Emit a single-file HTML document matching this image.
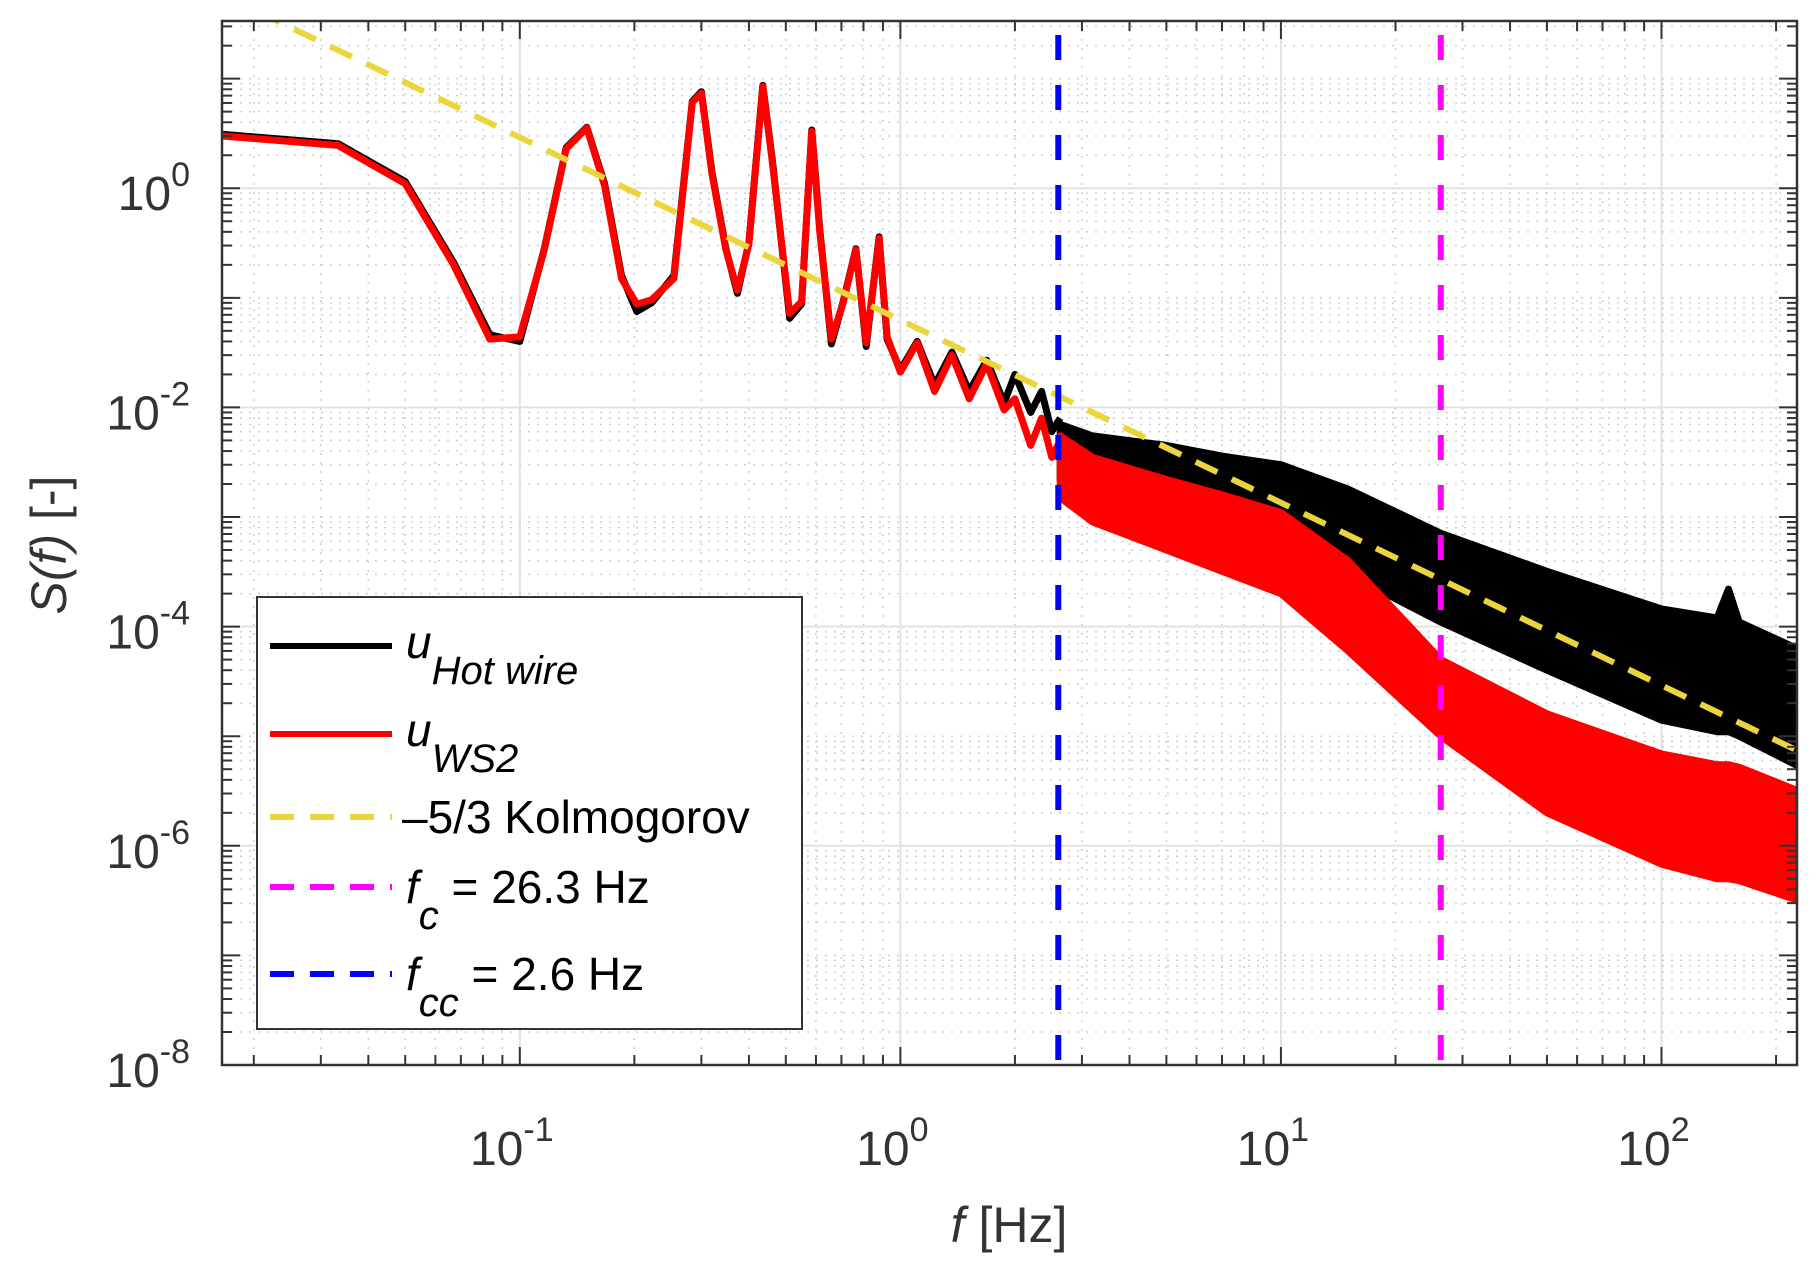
<!DOCTYPE html>
<html><head><meta charset="utf-8"><style>
html,body{margin:0;padding:0;background:#fff;}
svg{display:block;font-family:"Liberation Sans",sans-serif;}
</style></head><body>
<svg id="chart" width="1819" height="1278" viewBox="0 0 1819 1278" xmlns="http://www.w3.org/2000/svg">
<defs><clipPath id="plotclip"><rect x="222" y="21" width="1575" height="1044"/></clipPath></defs>
<rect x="0" y="0" width="1819" height="1278" fill="#fff"/>
<g id="grid"></g>
<g id="series" clip-path="url(#plotclip)"></g>
<g id="axes"></g>
<text transform="translate(66,545) rotate(-90)" text-anchor="middle" font-size="50" fill="#333"><tspan font-style="italic">S(f)</tspan> [-]</text>
<text x="1009" y="1242" text-anchor="middle" font-size="50" fill="#333"><tspan font-style="italic">f</tspan> [Hz]</text>
<g>
<rect x="257" y="597" width="545" height="432" fill="#fff" stroke="#333" stroke-width="2"/>
<g><line x1="270" y1="646" x2="392" y2="646" stroke="#000" stroke-width="6"/><text x="406" y="658" font-size="46" font-style="italic">u<tspan font-size="40" dy="26">Hot wire</tspan></text></g>
<g><line x1="270" y1="734" x2="392" y2="734" stroke="#f00" stroke-width="6"/><text x="406" y="746" font-size="46" font-style="italic">u<tspan font-size="40" dy="26">WS2</tspan></text></g>
<g><line x1="270" y1="817" x2="392" y2="817" stroke="#ecd53c" stroke-width="6" stroke-dasharray="24 16"/><text x="402" y="833" font-size="46">–5/3 Kolmogorov</text></g>
<g><line x1="270" y1="887" x2="392" y2="887" stroke="#f0f" stroke-width="6" stroke-dasharray="24 16"/><text x="406" y="903" font-size="46"><tspan font-style="italic">f</tspan><tspan font-size="40" font-style="italic" dy="26">c</tspan><tspan dy="-26"> = 26.3 Hz</tspan></text></g>
<g><line x1="270" y1="974" x2="392" y2="974" stroke="#00f" stroke-width="6" stroke-dasharray="24 16"/><text x="406" y="990" font-size="46"><tspan font-style="italic">f</tspan><tspan font-size="40" font-style="italic" dy="26">cc</tspan><tspan dy="-26"> = 2.6 Hz</tspan></text></g>
</g>
</svg>
<script>
// ---- data ----
const lowFreq = [0.0166,0.0333,0.05,0.067,0.0834,0.1,0.116,0.1324,0.150,0.167,0.185,0.203,0.222,0.254,0.284,0.30,0.32,0.348,0.373,0.40,0.435,0.461,0.512,0.55,0.585,0.614,0.659,0.706,0.764,0.813,0.879,0.923,1.0,1.107,1.23,1.366,1.517,1.686,1.873,2.0,2.2,2.35,2.5,2.63];
const redLow = [3.0,2.46,1.1,0.2,0.042,0.044,0.275,2.29,3.55,1.05,0.15,0.0875,0.096,0.15,6.07,7.4,1.34,0.275,0.117,0.31,8.5,1.71,0.072,0.092,3.3,0.40,0.042,0.0875,0.275,0.039,0.35,0.044,0.021,0.039,0.014,0.03,0.012,0.025,0.0095,0.012,0.0045,0.008,0.0035,0.005];
const blackLow = [3.1,2.55,1.15,0.21,0.046,0.040,0.28,2.35,3.6,1.1,0.16,0.075,0.09,0.16,6.2,7.6,1.4,0.28,0.11,0.32,8.7,1.8,0.065,0.088,3.4,0.42,0.038,0.09,0.28,0.036,0.36,0.042,0.022,0.04,0.016,0.032,0.014,0.027,0.011,0.02,0.009,0.014,0.006,0.008];
const bandFreq = [2.63,3.2,5,7,10,15,26.3,50,100,140,150,160,227];
const blackUpper = [7e-3,5.5e-3,4.5e-3,3.6e-3,3.0e-3,1.8e-3,7.1e-4,3.2e-4,1.45e-4,1.2e-4,2.2e-4,1.1e-4,6.3e-5];
const blackLower = [2.2e-3,1.8e-3,1.1e-3,8e-4,5.5e-4,3e-4,1.1e-4,4.0e-5,1.4e-5,1.1e-5,1.1e-5,1.0e-5,5.4e-6];
const redUpper = [5.5e-3,3.5e-3,2.2e-3,1.6e-3,1.1e-3,4e-4,5.0e-5,1.6e-5,6.9e-6,5.5e-6,5.5e-6,5.2e-6,3.2e-6];
const redLower = [1.5e-3,9e-4,5e-4,3.2e-4,2.0e-4,6e-5,1.0e-5,2.0e-6,6.8e-7,5e-7,5e-7,4.8e-7,3.2e-7];
const kolmoCoef = 0.0627; // S = c * f^(-5/3)
const kolmoFreq = [0.0165,227];
const fcc = 2.6, fc = 26.3;
const xTickExp = [-1,0,1,2];
const yTickExp = [-8,-6,-4,-2,0];

// ---- axes ----
const X0=222,X1=1797,Y0=21,Y1=1065;
const lxMin=Math.log10(0.0165), lxMax=Math.log10(227);
const lyMin=-8, lyMax=1.526;
const sx=f=>X0+(Math.log10(f)-lxMin)/(lxMax-lxMin)*(X1-X0);
const sy=v=>Y1-(Math.log10(v)-lyMin)/(lyMax-lyMin)*(Y1-Y0);
const NS="http://www.w3.org/2000/svg";
function mk(tag,attrs,parent){const e=document.createElementNS(NS,tag);for(const k in attrs)e.setAttribute(k,attrs[k]);parent.appendChild(e);return e;}
const grid=document.getElementById('grid'), series=document.getElementById('series'), axes=document.getElementById('axes');

for(let d=-2;d<=2;d++){for(let m=1;m<10;m++){const f=m*Math.pow(10,d);const x=sx(f);if(x<X0||x>X1)continue;
 const l=mk('line',{x1:x,y1:Y0,x2:x,y2:Y1,stroke:m==1?'#e2e2e2':'#cfcfcf','stroke-width':m==1?2:1.5,'stroke-dasharray':m==1?'none':'2 7'},grid);
 
 
 const t1=mk('line',{x1:x,y1:Y1,x2:x,y2:Y1-(m==1?18:10),stroke:'#333','stroke-width':2},axes);
 
 
 const t2=mk('line',{x1:x,y1:Y0,x2:x,y2:Y0+(m==1?18:10),stroke:'#333','stroke-width':2},axes);
 
 
}}
for(let d=-8;d<=1;d++){for(let m=1;m<10;m++){const v=m*Math.pow(10,d);const y=sy(v);if(y<Y0||y>Y1)continue;
 const major=(m==1&&d%2==0);
 const l=mk('line',{x1:X0,y1:y,x2:X1,y2:y,stroke:major?'#e2e2e2':'#cfcfcf','stroke-width':major?2:1.5,'stroke-dasharray':major?'none':'2 7'},grid);
 
 
 const t1=mk('line',{x1:X0,y1:y,x2:X0+(m==1?18:10),y2:y,stroke:'#333','stroke-width':2},axes);
 
 
 const t2=mk('line',{x1:X1,y1:y,x2:X1-(m==1?18:10),y2:y,stroke:'#333','stroke-width':2},axes);
 
 
}}
const frame=mk('rect',{x:X0,y:Y0,width:X1-X0,height:Y1-Y0,fill:'none',stroke:'#333','stroke-width':2.5},axes);



function tickLabel(x,y,anchor,e,name){
 const t=mk('text',{x:x,y:y,'text-anchor':anchor,'font-size':48,fill:'#333'},axes);
 
 
 t.appendChild(document.createTextNode('10'));
 const s=mk('tspan',{'font-size':34,dy:-24},t);
 s.textContent=String(e);
}
xTickExp.forEach(e=>tickLabel(sx(Math.pow(10,e))-8,1165,'middle',e,'x-tick-label'));
yTickExp.forEach(e=>tickLabel(190,sy(Math.pow(10,e))+22,'end',e,'y-tick-label'));

function linePath(fs,vs){return fs.map((f,i)=>(i?'L':'M')+sx(f).toFixed(1)+','+sy(vs[i]).toFixed(1)).join(' ');}
function bandPath(fs,up,lo){let p=fs.map((f,i)=>(i?'L':'M')+sx(f).toFixed(1)+','+sy(up[i]).toFixed(1)).join(' ');
 for(let i=fs.length-1;i>=0;i--)p+=' L'+sx(fs[i]).toFixed(1)+','+sy(lo[i]).toFixed(1);return p+' Z';}
const bb=mk('path',{d:bandPath(bandFreq,blackUpper,blackLower),fill:'#000',stroke:'#000','stroke-width':7,'stroke-linejoin':'round'},series);


const bl=mk('path',{d:linePath(lowFreq,blackLow),fill:'none',stroke:'#000','stroke-width':7,'stroke-linejoin':'round'},series);


const rb=mk('path',{d:bandPath(bandFreq,redUpper,redLower),fill:'#f00',stroke:'#f00','stroke-width':7,'stroke-linejoin':'round'},series);


const rl=mk('path',{d:linePath(lowFreq,redLow),fill:'none',stroke:'#f00','stroke-width':7,'stroke-linejoin':'round'},series);


const kl=mk('path',{d:linePath(kolmoFreq,kolmoFreq.map(f=>kolmoCoef*Math.pow(f,-5/3))),fill:'none',stroke:'#ecd53c','stroke-width':6,'stroke-dasharray':'24 16'},series);


const vb=mk('line',{x1:sx(fcc),y1:Y0,x2:sx(fcc),y2:Y1,stroke:'#00f','stroke-width':6,'stroke-dasharray':'25 25','stroke-dashoffset':'-14'},series);


const vm=mk('line',{x1:sx(fc),y1:Y0,x2:sx(fc),y2:Y1,stroke:'#f0f','stroke-width':6,'stroke-dasharray':'25 25','stroke-dashoffset':'-14'},series);


</script>
</body></html>
